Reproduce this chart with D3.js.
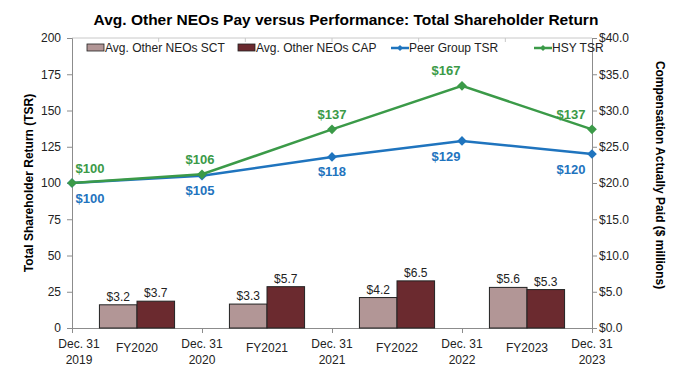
<!DOCTYPE html>
<html>
<head>
<meta charset="utf-8">
<script src="https://cdn.jsdelivr.net/npm/d3@7"></script>
<style>
  body { margin: 0; background: #fff; }
  text { font-family: Arial, "Liberation Sans", sans-serif; }
</style>
</head>
<body>
<div id="chart"></div>
<script>
// Chart data
const dateLabels = [["Dec. 31", "2019"], ["Dec. 31", "2020"], ["Dec. 31", "2021"], ["Dec. 31", "2022"], ["Dec. 31", "2023"]];
const fiscalYears = ["FY2020", "FY2021", "FY2022", "FY2023"];
const sctPay = [3.2, 3.3, 4.2, 5.6];   // $ millions
const capPay = [3.7, 5.7, 6.5, 5.3];   // $ millions
const peerTSR = [100, 105, 118, 129, 120];
const hsyTSR = [100, 106, 137, 167, 137];
const tsrTicks = [0, 25, 50, 75, 100, 125, 150, 175, 200];
const payTicks = [0, 5, 10, 15, 20, 25, 30, 35, 40];

const W = 673, H = 376;
const plotL = 72, plotR = 592, plotT = 38, plotB = 328;

const svg = d3.select("#chart").append("svg")
    .attr("width", W)
    .attr("height", H);

// Scales
const xDate = d3.scalePoint().domain(d3.range(dateLabels.length)).range([plotL, plotR]);
const xFY = d3.scaleBand().domain(fiscalYears).range([plotL, plotR]).padding(0);
const xSub = d3.scaleBand().domain(["sct", "cap"]).range([0, xFY.bandwidth()]).paddingInner(0).paddingOuter(0.73);
const yTSR = d3.scaleLinear().domain([0, 200]).range([plotB, plotT]);
const yPay = d3.scaleLinear().domain([0, 40]).range([plotB, plotT]);

const colors = { sct: "#b29696", cap: "#6b2a2f", peer: "#1f74be", hsy: "#3b9a48" };
const axisGray = "#8c8c8c";

// Title
svg.append("text")
    .attr("x", 346).attr("y", 25)
    .attr("text-anchor", "middle")
    .style("font-size", "15.5px").style("font-weight", "bold")
    .text("Avg. Other NEOs Pay versus Performance: Total Shareholder Return");

// Top frame line with small ticks
svg.append("line").attr("x1", plotL).attr("x2", plotR).attr("y1", plotT).attr("y2", plotT)
    .attr("stroke", "#c8c8c8");
d3.range(1, 6).forEach(i => {
    const x = plotL + (plotR - plotL) * i / 6;
    svg.append("line").attr("x1", x).attr("x2", x).attr("y1", plotT).attr("y2", plotT + 4)
        .attr("stroke", "#c8c8c8");
});

// Left axis
const yAxisL = svg.append("g")
    .attr("transform", `translate(${plotL},0)`)
    .call(d3.axisLeft(yTSR).tickValues(tsrTicks).tickSize(5).tickPadding(6));
yAxisL.selectAll("text").style("font-size", "12px").attr("fill", "#222");

// Right axis
const yAxisR = svg.append("g")
    .attr("transform", `translate(${plotR},0)`)
    .call(d3.axisRight(yPay).tickValues(payTicks).tickSize(5).tickPadding(2)
        .tickFormat(d => "$" + d3.format(".1f")(d)));
yAxisR.selectAll("text").style("font-size", "12px").attr("fill", "#222");

// Bottom axis
const xAxis = svg.append("g")
    .attr("transform", `translate(0,${plotB})`)
    .call(d3.axisBottom(xDate).tickSize(5).tickFormat(""));

[yAxisL, yAxisR, xAxis].forEach(g => {
    g.select(".domain").attr("stroke", axisGray);
    g.selectAll(".tick line").attr("stroke", axisGray);
});

// Date labels (two lines)
const dateX = (d, i) => xDate(i) + (i === 0 ? 7 : 0);
const dateText = svg.append("g").selectAll("text")
    .data(dateLabels)
    .join("text")
    .attr("x", dateX)
    .attr("y", 348)
    .attr("text-anchor", "middle")
    .style("font-size", "12px")
    .attr("fill", "#222");
dateText.append("tspan").attr("x", dateX).text(d => d[0]);
dateText.append("tspan").attr("x", dateX).attr("dy", 16).text(d => d[1]);

// FY labels
svg.append("g").selectAll("text")
    .data(fiscalYears)
    .join("text")
    .attr("x", d => xFY(d) + xFY.bandwidth() / 2)
    .attr("y", 352)
    .attr("text-anchor", "middle")
    .style("font-size", "12px")
    .attr("fill", "#222")
    .text(d => d);

// Bars
const barData = fiscalYears.flatMap((fy, i) => [
    { fy, key: "sct", value: sctPay[i] },
    { fy, key: "cap", value: capPay[i] }
]);

svg.append("g").selectAll("rect")
    .data(barData)
    .join("rect")
    .attr("x", d => xFY(d.fy) + xSub(d.key))
    .attr("y", d => yPay(d.value))
    .attr("width", xSub.bandwidth())
    .attr("height", d => yPay(0) - yPay(d.value))
    .attr("fill", d => colors[d.key])
    .attr("stroke", "#222")
    .attr("stroke-width", 1);

svg.append("g").selectAll("text")
    .data(barData)
    .join("text")
    .attr("x", d => xFY(d.fy) + xSub(d.key) + xSub.bandwidth() / 2)
    .attr("y", d => yPay(d.value) - 4)
    .attr("text-anchor", "middle")
    .style("font-size", "12px")
    .attr("fill", "#222")
    .text(d => "$" + d.value.toFixed(1));

// Lines
const line = d3.line().x((d, i) => xDate(i)).y(d => yTSR(d));
const diamond = d3.symbol().type(d3.symbolDiamond2).size(60);
const labelDx = [18, -2, 0, -16, -21];

function drawSeries(values, color, dy) {
    svg.append("path")
        .datum(values)
        .attr("d", line)
        .attr("fill", "none")
        .attr("stroke", color)
        .attr("stroke-width", 2.5);

    svg.append("g").selectAll("path")
        .data(values)
        .join("path")
        .attr("transform", (d, i) => `translate(${xDate(i)},${yTSR(d)})`)
        .attr("d", diamond)
        .attr("fill", color);

    svg.append("g").selectAll("text")
        .data(values)
        .join("text")
        .attr("x", (d, i) => xDate(i) + labelDx[i])
        .attr("y", d => yTSR(d) + dy)
        .attr("dy", "0.35em")
        .attr("text-anchor", "middle")
        .style("font-size", "13px").style("font-weight", "bold")
        .attr("fill", color)
        .text(d => "$" + d);
}

drawSeries(peerTSR, colors.peer, 15);
drawSeries(hsyTSR, colors.hsy, -15);

// Legend
const legend = svg.append("g").style("font-size", "12px");
const legendItems = [
    { label: "Avg. Other NEOs SCT", type: "rect", color: colors.sct, x: 87 },
    { label: "Avg. Other NEOs CAP", type: "rect", color: colors.cap, x: 238 },
    { label: "Peer Group TSR", type: "line", color: colors.peer, x: 391 },
    { label: "HSY TSR", type: "line", color: colors.hsy, x: 534 }
];
legendItems.forEach(it => {
    if (it.type === "rect") {
        legend.append("rect").attr("x", it.x).attr("y", 44).attr("width", 17).attr("height", 7)
            .attr("fill", it.color).attr("stroke", "#222").attr("stroke-width", 0.8);
    } else {
        legend.append("line").attr("x1", it.x).attr("x2", it.x + 18).attr("y1", 48).attr("y2", 48)
            .attr("stroke", it.color).attr("stroke-width", 2.5);
        legend.append("path").attr("transform", `translate(${it.x + 9},48)`)
            .attr("d", d3.symbol().type(d3.symbolDiamond2).size(24)).attr("fill", it.color);
    }
    legend.append("text").attr("x", it.x + 18).attr("y", 52).attr("fill", "#222").text(it.label);
});

// Axis titles
svg.append("text")
    .attr("transform", `translate(33,${(plotT + plotB) / 2}) rotate(-90)`)
    .attr("text-anchor", "middle")
    .style("font-size", "12px").style("font-weight", "bold")
    .text("Total Shareholder Return (TSR)");

svg.append("text")
    .attr("transform", `translate(656,175) rotate(90)`)
    .attr("text-anchor", "middle")
    .style("font-size", "12px").style("font-weight", "bold")
    .text("Compensation Actually Paid ($ millions)");
</script>
</body>
</html>
